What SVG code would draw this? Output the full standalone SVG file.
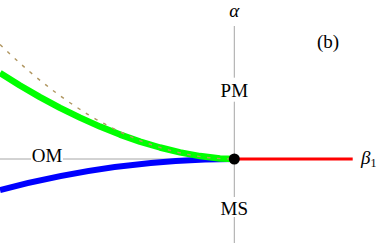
<svg xmlns="http://www.w3.org/2000/svg" width="382" height="243" viewBox="0 0 382 243">
<style>
.axis{stroke:#a6a6a6;stroke-width:1;fill:none}
.lbl{font-family:'Liberation Serif','DejaVu Serif',serif;font-size:19px;fill:#000}
.it{font-style:italic}
.crv{fill:none;stroke-linecap:butt;stroke-linejoin:round}
</style>
<rect width="382" height="243" fill="#fff"/>
<g id="axes">
<line class="axis" x1="234.3" y1="26" x2="234.3" y2="77.7"/>
<line class="axis" x1="234.3" y1="101.7" x2="234.3" y2="197"/>
<line class="axis" x1="234.3" y1="217" x2="234.3" y2="243"/>
<line class="axis" x1="0" y1="159" x2="31" y2="159"/>
<line class="axis" x1="63" y1="159" x2="234.3" y2="159"/>
</g>
<g id="connectors">
<path id="blue" class="crv" d="M0,190 Q117,159 234.3,159" stroke="#0000ff" stroke-width="6"/>
<polyline id="green" class="crv" points="0,73 20,85.5 40,97.1 60,107.8 80,117.6 100,126.6 120,134.6 140,141.6 160,147.5 180,152.4 200,156.1 220,158.4 234.3,159" stroke="#00ff00" stroke-width="6.5"/>
<path id="dashed" class="crv" d="M0,44.5 Q117,159 234.3,159" stroke="#b09660" stroke-width="1.4" stroke-dasharray="3.5 6.5"/>
<line id="red" x1="234.3" y1="159" x2="352.7" y2="159" stroke="#ff0000" stroke-width="3"/>
</g>
<g id="origin">
<circle cx="234.3" cy="159" r="5.5" fill="#000"/>
</g>
<g id="labels">
<text class="lbl it" x="234.3" y="16.5" text-anchor="middle" font-size="18">α</text>
<text class="lbl" x="328" y="47.5" text-anchor="middle" font-size="18">(b)</text>
<text class="lbl" x="234.3" y="97.3" text-anchor="middle">PM</text>
<text class="lbl" x="47" y="161.5" text-anchor="middle">OM</text>
<text class="lbl" x="234.3" y="215.3" text-anchor="middle">MS</text>
<text class="lbl" x="361" y="164.3"><tspan class="it">β</tspan><tspan font-size="12" dy="2.5">1</tspan></text>
</g>
</svg>
